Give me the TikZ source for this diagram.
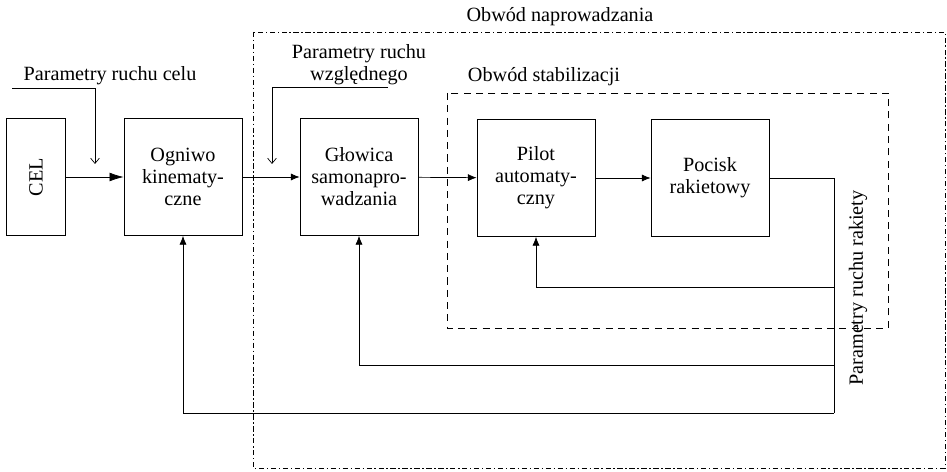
\documentclass[tikz,border=0pt]{standalone}
\usepackage{fontspec}
\setmainfont{Liberation Serif}
\usetikzlibrary{arrows.meta}

\begin{document}
\begin{tikzpicture}[x=0.02cm, y=-0.02cm, font=\fontsize{11.5}{12.5}\selectfont,
        blok/.style={draw, align=center, minimum width=2.36cm, minimum height=2.34cm, inner sep=1pt},
        arr/.style={-{Latex[length=5pt, width=4pt]}},
        arrduza/.style={-{Latex[length=8pt, width=5pt]}},
        wej/.style={-{Straight Barb[length=3pt, width=5pt]}},
        naprow/.style={dash pattern=on 3pt off 1.5pt on 0.8pt off 1.5pt},
        stabil/.style={dash pattern=on 4pt off 3pt}]
                \useasboundingbox (0,0) rectangle (947,472);

                \node[blok, minimum width=1.18cm] (cel) at (36,177) {\rotatebox{90}{CEL}};
                \node[blok] (ogn) at (183,177) {Ogniwo\\kinematy-\\czne};
                \node[blok] (glo) at (359,177) {Głowica\\samonapro-\\wadzania};
                \node[blok] (pil) at (536,178) {Pilot\\automaty-\\czny};
                \node[blok] (poc) at (710,178) {Pocisk\\rakietowy};

                \node (tnaprow) at (560,17) {Obwód naprowadzania};
                \node (tcelu) at (110,76) {Parametry ruchu celu};
                \node[align=center] (twzgl) at (359,65) {Parametry ruchu\\względnego};
                \node (tstab) at (544,77) {Obwód stabilizacji};
                \node[rotate=90] (trak) at (858,288) {Parametry ruchu rakiety};

                % obwody
                \draw[naprow] (253,32) rectangle (945,468);
                \draw[stabil] (447,93) rectangle (888,328);

                % wejscia
                \coordinate (c1) at (12,88);
                \coordinate (we1) at (95,164);
                \coordinate (c2) at (388,87);
                \coordinate (we2) at (272,164);
                \draw[wej] (c1) -| (we1);
                \draw[wej] (c2) -| (we2);

                \draw[arrduza] (cel) -- (ogn);
                \draw[arr]
                    (ogn) edge (glo)
                    (glo) edge (pil)
                    (pil) edge (poc)
                    ;

                % sprzezenia zwrotne
                \coordinate (fb1) at (834,287);
                \coordinate (fb2) at (834,365);
                \coordinate (fb3) at (834,413);
                \draw (poc.east) -| (fb3);
                \draw[arr] (fb1) -| (pil.south);
                \draw[arr] (fb2) -| (glo.south);
                \draw[arr] (fb3) -| (ogn.south);
\end{tikzpicture}
\end{document}
